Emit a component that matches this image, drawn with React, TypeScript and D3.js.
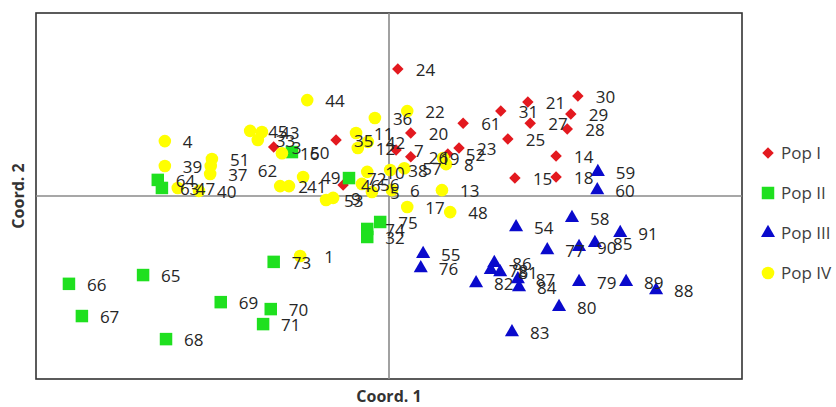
import React from 'react';
import * as d3 from 'd3';

// accession numbers and PCoA coordinates per population
const popIIds = ['24', '30', '21', '31', '29', '61', '27', '28', '20', '25', '23', '52', '14', '26', '7', '15', '18', '35', '3', '46'];
const popICoord1 = [0.015, 0.321, 0.236, 0.19, 0.309, 0.126, 0.24, 0.303, 0.037, 0.202, 0.119, 0.1, 0.284, 0.037, 0.012, 0.214, 0.284, -0.09, -0.196, -0.078];
const popICoord2 = [0.347, 0.273, 0.257, 0.232, 0.224, 0.199, 0.199, 0.183, 0.172, 0.156, 0.131, 0.115, 0.109, 0.107, 0.126, 0.049, 0.052, 0.153, 0.134, 0.03];

const popIIIds = ['66', '67', '65', '68', '69', '70', '71', '73', '75', '74', '32', '64', '63', '50', '72'];
const popIICoord1 = [-0.544, -0.522, -0.418, -0.379, -0.286, -0.201, -0.214, -0.196, -0.015, -0.037, -0.037, -0.393, -0.386, -0.165, -0.068];
const popIICoord2 = [-0.24, -0.328, -0.216, -0.391, -0.29, -0.309, -0.35, -0.18, -0.071, -0.09, -0.112, 0.044, 0.022, 0.12, 0.049];

const popIIIIds = ['60', '59', '58', '54', '91', '85', '90', '77', '55', '76', '86', '78', '81', '82', '87', '84', '79', '89', '88', '80', '83'];
const popIIICoord1 = [0.354, 0.355, 0.311, 0.216, 0.393, 0.35, 0.323, 0.269, 0.058, 0.054, 0.179, 0.173, 0.189, 0.148, 0.219, 0.221, 0.323, 0.403, 0.454, 0.289, 0.209];
const popIIICoord2 = [0.016, 0.066, -0.06, -0.085, -0.101, -0.128, -0.139, -0.148, -0.158, -0.197, -0.183, -0.202, -0.208, -0.238, -0.227, -0.249, -0.235, -0.235, -0.257, -0.303, -0.372];

const popIVIds = ['44', '36', '22', '4', '39', '51', '37', '47', '40', '45', '43', '33', '16', '2', '41', '49', '53', '9', '1', '11', '12', '42', '10', '56', '5', '6', '38', '57', '13', '17', '48', '19', '8', '62'];
const popIVCoord1 = [-0.139, -0.024, 0.031, -0.381, -0.381, -0.301, -0.304, -0.359, -0.323, -0.236, -0.216, -0.223, -0.182, -0.185, -0.17, -0.146, -0.107, -0.095, -0.151, -0.056, -0.053, -0.036, -0.037, -0.046, -0.029, 0.005, 0.002, 0.026, 0.09, 0.031, 0.104, 0.092, 0.097, -0.303];
const popIVCoord2 = [0.262, 0.213, 0.232, 0.15, 0.082, 0.101, 0.06, 0.022, 0.014, 0.178, 0.175, 0.153, 0.117, 0.027, 0.027, 0.052, -0.011, -0.005, -0.164, 0.172, 0.131, 0.148, 0.066, 0.033, 0.011, 0.016, 0.071, 0.076, 0.016, -0.03, -0.044, 0.104, 0.087, 0.082];

// labels that were dragged by hand in the original
const labelNudge: Record<string, [number, number]> = { '62': [29, 4], '19': [-21, 0], '1': [6, 0] };

const W = 836, H = 407;
const plot = { left: 36, top: 13, right: 742, bottom: 379 };

const series = [
  { name: 'Pop I', ids: popIIds, c1: popICoord1, c2: popICoord2, color: '#e3191f', shape: 'diamond' },
  { name: 'Pop II', ids: popIIIds, c1: popIICoord1, c2: popIICoord2, color: '#1fe01f', shape: 'square' },
  { name: 'Pop III', ids: popIIIIds, c1: popIIICoord1, c2: popIIICoord2, color: '#0a0acc', shape: 'triangle' },
  { name: 'Pop IV', ids: popIVIds, c1: popIVCoord1, c2: popIVCoord2, color: '#ffff00', shape: 'circle' },
];

function markerPath(shape: string) {
  if (shape === 'diamond') return d3.symbol(d3.symbolSquare, 66)();
  if (shape === 'square') return d3.symbol(d3.symbolSquare, 156)();
  if (shape === 'triangle') return d3.symbol(d3.symbolTriangle, 86)();
  return d3.symbol(d3.symbolCircle, Math.PI * 6.3 * 6.3)();
}

export default function App() {
  const x = d3.scaleLinear().domain([-0.6, 0.6]).range([plot.left, plot.right]);
  const y = d3.scaleLinear().domain([-0.5, 0.5]).range([plot.bottom, plot.top]);
  const font = '"Open Sans", "Liberation Sans", sans-serif';

  return (
    <svg width={W} height={H} style={{ position: 'absolute', left: 0, top: 0, background: '#fff' }}>
      <rect x={plot.left} y={plot.top} width={plot.right - plot.left} height={plot.bottom - plot.top}
        fill="#fff" stroke="#333" strokeWidth={1.6} />
      <line x1={x(0)} x2={x(0)} y1={plot.top} y2={plot.bottom} stroke="#8a8a8a" strokeWidth={1.6} />
      <line x1={plot.left} x2={plot.right} y1={y(0)} y2={y(0)} stroke="#8a8a8a" strokeWidth={1.6} />

      {series.map(s => (
        <g key={s.name}>
          {s.ids.map((id, i) => (
            <path key={id} d={markerPath(s.shape) || ''} fill={s.color}
              transform={`translate(${x(s.c1[i])},${y(s.c2[i])})${s.shape === 'diamond' ? ' rotate(45)' : ''}`} />
          ))}
        </g>
      ))}

      <g fontFamily={font} fontSize={17} fill="#262626">
        {series.map(s => s.ids.map((id, i) => {
          const n = labelNudge[id] || [0, 0];
          return (
            <text key={s.name + id} x={x(s.c1[i]) + 18 + n[0]} y={y(s.c2[i]) + 7 + n[1]}>{id}</text>
          );
        }))}
      </g>

      <g fontFamily={font}>
        {series.map((s, i) => (
          <g key={s.name} transform={`translate(768,${153 + i * 40})`}>
            <path d={markerPath(s.shape) || ''} fill={s.color} transform={s.shape === 'diamond' ? 'rotate(45)' : ''} />
            <text x={13} y={6} fontSize={17} fill="#404040">{s.name}</text>
          </g>
        ))}
      </g>

      <text x={389} y={402} textAnchor="middle" fontFamily={font} fontWeight="bold" fontSize={16} fill="#333">Coord. 1</text>
      <text transform={`translate(24,${y(0)}) rotate(-90)`} textAnchor="middle" fontFamily={font} fontWeight="bold" fontSize={16} fill="#333">Coord. 2</text>
    </svg>
  );
}
